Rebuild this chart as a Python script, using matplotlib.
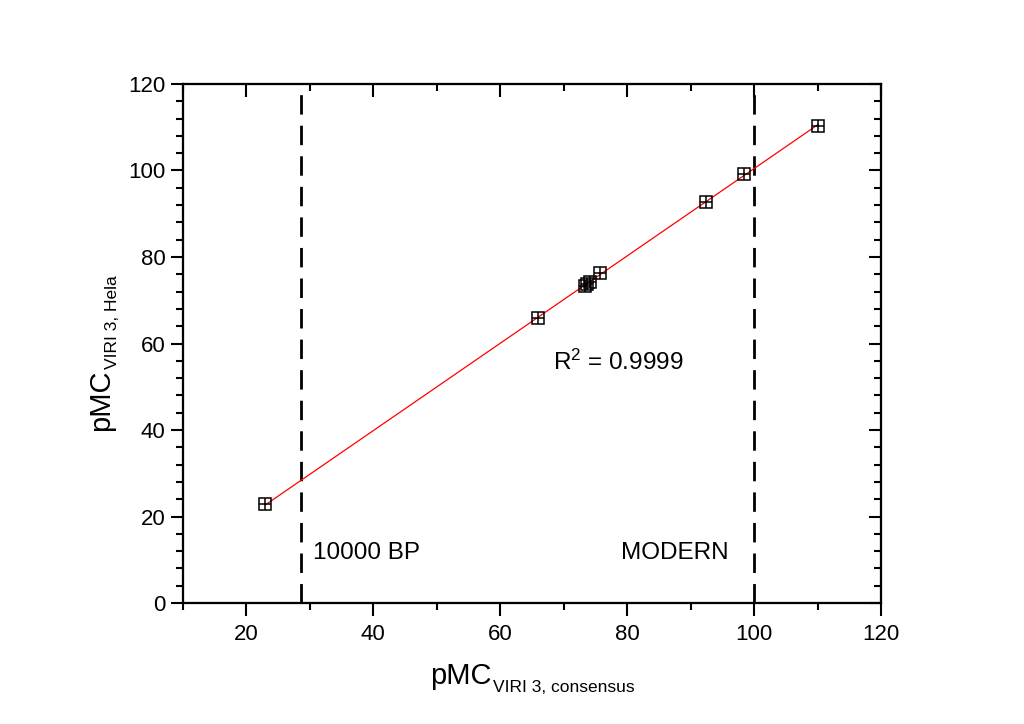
import numpy as np
import matplotlib
matplotlib.use("Agg")
import matplotlib.pyplot as plt
from matplotlib.ticker import MultipleLocator

plt.rcParams['font.family'] = ['Liberation Sans', 'DejaVu Sans']
plt.rcParams['mathtext.fontset'] = 'custom'
plt.rcParams['mathtext.rm'] = 'Liberation Sans'
plt.rcParams['mathtext.it'] = 'Liberation Sans'

x_consensus = [23.0, 65.9, 73.3, 73.7, 74.2, 75.7, 92.4, 98.4, 110.1]
y_hela = [22.8, 65.9, 73.2, 73.7, 74.3, 76.3, 92.8, 99.3, 110.4]
vlines = [28.6, 100.0]
r2_text = "R$^2$ = 0.9999"
xlabel_main, xlabel_sub = "pMC", "VIRI 3, consensus"
ylabel_main, ylabel_sub = "pMC", "VIRI 3, Hela"

W, H = 1024, 724
fig = plt.figure(figsize=(W / 100, H / 100), dpi=100)
ax = fig.add_axes([0.1787, 0.1671, 0.8604 - 0.1787, 0.884 - 0.1671])

xs = np.array(x_consensus)
ys = np.array(y_hela)
slope, intercept = np.polyfit(xs, ys, 1)
xl = np.array([xs.min(), xs.max()])
ax.plot(xl, slope * xl + intercept, color='red', lw=0.9, zorder=2)

ax.plot(xs, ys, linestyle='none', marker='s', ms=8.5, mfc='none', mec='black', mew=1.1, zorder=3)
ax.plot(xs, ys, linestyle='none', marker='+', ms=8.5, mec='black', mew=1.1, zorder=3)

for v in vlines:
    ax.axvline(v, color='black', lw=2, linestyle=(0, (7, 4)), zorder=1)

ax.set_xlim(10, 120)
ax.set_ylim(0, 120)
ax.set_xticks([20, 40, 60, 80, 100, 120])
ax.xaxis.set_minor_locator(MultipleLocator(10))
ax.yaxis.set_major_locator(MultipleLocator(20))
ax.yaxis.set_minor_locator(MultipleLocator(4))

for s in ax.spines.values():
    s.set_linewidth(1.5)

ax.tick_params(which='both', direction='out', width=1.5, labelsize=16, top=False, right=False)
ax.tick_params(which='major', length=9)
ax.tick_params(which='minor', length=5)
ax.tick_params(axis='x', pad=6)

ax2 = ax.twinx()
ax2.set_ylim(0, 120)
ax2.yaxis.set_major_locator(MultipleLocator(20))
ax2.yaxis.set_minor_locator(MultipleLocator(4))
ax2.tick_params(which='both', direction='in', width=1.5, labelright=False)
ax2.tick_params(which='major', length=9)
ax2.tick_params(which='minor', length=5)
ax3 = ax.twiny()
ax3.set_xlim(10, 120)
ax3.xaxis.set_major_locator(MultipleLocator(20))
ax3.xaxis.set_minor_locator(MultipleLocator(10))
ax3.tick_params(which='both', direction='in', width=1.5, labeltop=False)
ax3.tick_params(which='major', length=9)
ax3.tick_params(which='minor', length=5)
for a in (ax2, ax3):
    for s in a.spines.values():
        s.set_linewidth(1.5)

ax.text(68.3, 55.7, r2_text, fontsize=17.5, va='center', ha='left')
ax.text(30.5, 11.6, "10000 BP", fontsize=17.5, va='center', ha='left')
ax.text(79.0, 11.6, "MODERN", fontsize=17.5, va='center', ha='left')

# axis labels with manually placed subscripts
fig.canvas.draw()
r = fig.canvas.get_renderer()
MAIN_FS, SUB_FS = 21, 12.5

def width_px(s, fs):
    t = fig.text(0, 0, s, fontsize=fs)
    w = t.get_window_extent(r).width
    t.remove()
    return w

wm_x = width_px(xlabel_main, MAIN_FS)
ws_x = width_px(xlabel_sub, SUB_FS)
cx = (183 + 881) / 2
x0 = cx - (wm_x + ws_x) / 2
fig.text(x0 / W, 1 - 684 / H, xlabel_main, fontsize=MAIN_FS, ha='left', va='baseline')
fig.text((x0 + wm_x + 1) / W, 1 - 692 / H, xlabel_sub, fontsize=SUB_FS, ha='left', va='baseline')

wm_y = width_px(ylabel_main, MAIN_FS)
ws_y = width_px(ylabel_sub, SUB_FS)
cy = (84 + 603) / 2 + 10
y0 = cy + (wm_y + ws_y) / 2
fig.text(109 / W, 1 - y0 / H, ylabel_main, fontsize=MAIN_FS, ha='left', va='baseline',
         rotation=90, rotation_mode='anchor')
fig.text(117 / W, 1 - (y0 - wm_y - 1) / H, ylabel_sub, fontsize=SUB_FS, ha='left', va='baseline',
         rotation=90, rotation_mode='anchor')

fig.savefig("out.png", dpi=100)
